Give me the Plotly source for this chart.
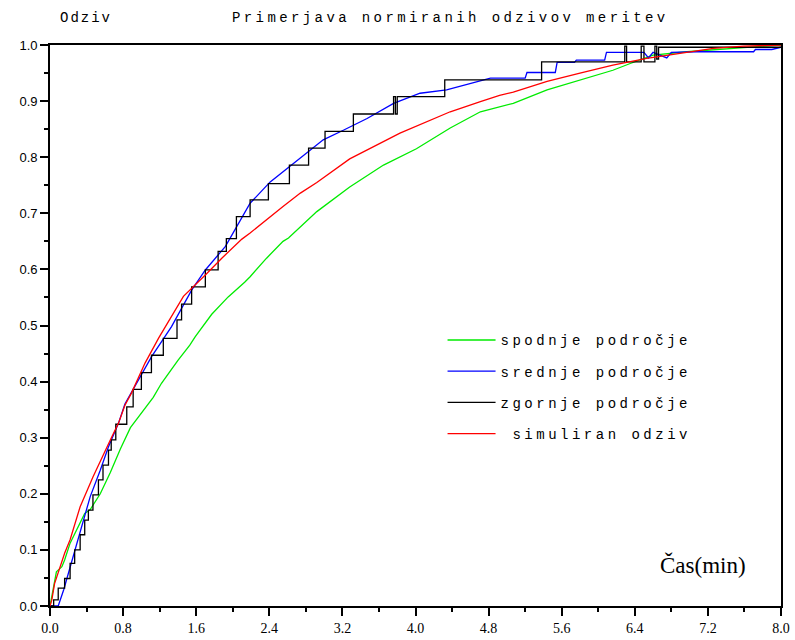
import plotly.graph_objects as go

# ---- data ----
green_x = [0.0, 0.02, 0.04, 0.07, 0.13, 0.16, 0.22, 0.29, 0.38, 0.44, 0.55, 0.66, 0.77, 0.88, 1.02,
           1.13, 1.22, 1.40, 1.53, 1.59, 1.77, 1.95, 2.13, 2.19, 2.37, 2.55, 2.61, 2.92, 3.28, 3.65,
           4.01, 4.38, 4.71, 4.92, 5.07, 5.44, 5.80, 6.16, 6.35, 6.60, 6.97, 7.62, 8.0]
green_y = [0.0, 0.017, 0.034, 0.061, 0.070, 0.082, 0.112, 0.135, 0.165, 0.172, 0.200, 0.238, 0.280, 0.318, 0.349,
           0.372, 0.397, 0.438, 0.465, 0.480, 0.520, 0.551, 0.577, 0.587, 0.620, 0.650, 0.656, 0.703, 0.747, 0.786,
           0.815, 0.852, 0.881, 0.890, 0.896, 0.920, 0.938, 0.955, 0.967, 0.982, 0.988, 0.996, 1.0]

blue_x = [0.0, 0.09, 0.15, 0.20, 0.25, 0.31, 0.38, 0.44, 0.55, 0.64, 0.75, 0.82, 1.11, 1.33, 1.55, 1.70,
          1.92, 2.02, 2.19, 2.41, 2.74, 2.99, 3.21, 3.47, 3.76, 4.05, 4.34, 4.82, 5.20, 5.22, 5.53, 5.55,
          5.74, 5.76, 6.07, 6.09, 6.50, 6.55, 6.60, 6.75, 6.80, 7.08, 7.70, 7.72, 7.90, 8.0]
blue_y = [0.0, 0.0, 0.029, 0.058, 0.088, 0.124, 0.165, 0.195, 0.242, 0.284, 0.326, 0.360, 0.444, 0.498, 0.563, 0.599,
          0.641, 0.670, 0.718, 0.756, 0.798, 0.831, 0.848, 0.869, 0.896, 0.914, 0.920, 0.941, 0.941, 0.951, 0.951, 0.969,
          0.969, 0.973, 0.973, 0.987, 0.987, 0.977, 0.987, 0.977, 0.987, 0.988, 0.988, 0.992, 0.992, 0.996]

black_x = [0.0, 0.04, 0.09, 0.16, 0.22, 0.27, 0.33, 0.38, 0.42, 0.47, 0.53, 0.58, 0.64, 0.67, 0.72, 0.84,
           0.91, 1.00, 1.11, 1.24, 1.39, 1.44, 1.55, 1.70, 1.84, 1.93, 2.04, 2.19, 2.39, 2.62, 2.83, 3.01,
           3.32, 3.76, 3.78, 3.80, 4.32, 5.38, 6.29, 6.31, 6.47, 6.50, 6.62, 6.64, 6.66, 8.0]
black_y = [0.0, 0.011, 0.032, 0.049, 0.076, 0.100, 0.127, 0.153, 0.171, 0.198, 0.225, 0.251, 0.278, 0.296, 0.324, 0.355,
           0.386, 0.416, 0.447, 0.477, 0.510, 0.538, 0.569, 0.599, 0.632, 0.655, 0.694, 0.724, 0.753, 0.786, 0.816, 0.846,
           0.877, 0.908, 0.877, 0.908, 0.938, 0.970, 0.998, 0.970, 0.998, 0.970, 0.998, 0.975, 0.996, 0.997]

red_x = [0.0, 0.02, 0.05, 0.11, 0.16, 0.22, 0.27, 0.33, 0.47, 0.57, 0.66, 0.75, 0.82, 0.89, 1.04, 1.19,
         1.33, 1.46, 1.70, 1.88, 2.10, 2.19, 2.55, 2.74, 2.92, 3.28, 3.83, 4.38, 4.71, 4.92, 5.07, 5.44,
         5.80, 6.16, 6.53, 6.89, 7.26, 7.59, 8.0]
red_y = [0.0, 0.011, 0.040, 0.070, 0.094, 0.118, 0.147, 0.177, 0.230, 0.266, 0.296, 0.326, 0.358, 0.379, 0.433, 0.478,
         0.517, 0.552, 0.590, 0.620, 0.654, 0.665, 0.712, 0.736, 0.755, 0.797, 0.843, 0.881, 0.899, 0.910, 0.916, 0.935,
         0.950, 0.964, 0.976, 0.985, 0.994, 0.998, 1.0]

names = ["spodnje področje", "srednje področje", "zgornje področje", "simuliran odziv"]
x_ticks = [0.0, 0.8, 1.6, 2.4, 3.2, 4.0, 4.8, 5.6, 6.4, 7.2, 8.0]
y_ticks = [0.0, 0.1, 0.2, 0.3, 0.4, 0.5, 0.6, 0.7, 0.8, 0.9, 1.0]

MONO = "Liberation Mono"
LS = "letter-spacing:3.5px"

fig = go.Figure()
fig.add_trace(go.Scatter(x=green_x, y=green_y, mode="lines", line=dict(color="rgb(0,235,0)", width=1.3),
                         name=f'<span style="{LS}">{names[0]}</span>', legendgroup="g1"))
fig.add_trace(go.Scatter(x=blue_x, y=blue_y, mode="lines", line=dict(color="rgb(0,0,255)", width=1.3),
                         name=f'<span style="{LS}">{names[1]}</span>', legendgroup="g2"))
fig.add_trace(go.Scatter(x=black_x, y=black_y, mode="lines", line=dict(color="black", width=1.3, shape="hv"),
                         name=f'<span style="{LS}">{names[2]}</span>', legendgroup="g3"))
fig.add_trace(go.Scatter(x=red_x, y=red_y, mode="lines", line=dict(color="rgb(255,0,0)", width=1.3),
                         name=f'<span style="{LS}"> {names[3]}</span>', legendgroup="g4"))

fig.update_layout(
    width=795, height=640,
    margin=dict(l=50, r=14, t=45, b=34, autoexpand=False),
    paper_bgcolor="white", plot_bgcolor="white",
    showlegend=True,
    legend=dict(x=0.537, y=0.502, xanchor="left", yanchor="top",
                font=dict(family=MONO, size=14, color="black"),
                bgcolor="rgba(0,0,0,0)", tracegroupgap=10, itemwidth=48),
    xaxis=dict(range=[0, 8], tickvals=x_ticks, ticktext=[f"{v:.1f}" for v in x_ticks],
               ticks="outside", ticklen=8, tickwidth=1.5, tickcolor="black", automargin=False,
               showline=True, linecolor="black", linewidth=1.8, mirror=True,
               showgrid=False, zeroline=False,
               tickfont=dict(family="Liberation Serif", size=14, color="black"),
               minor=dict(tickvals=[0.4, 1.2, 2.0, 2.8, 3.6, 4.4, 5.2, 6.0, 6.8, 7.6],
                          ticks="outside", ticklen=4, tickwidth=1.5, tickcolor="black", showgrid=False)),
    yaxis=dict(range=[0, 1], tickvals=y_ticks, ticktext=[f"{v:.1f}" for v in y_ticks],
               ticks="outside", ticklen=8, tickwidth=1.5, tickcolor="black", automargin=False,
               showline=True, linecolor="black", linewidth=1.8, mirror=True,
               showgrid=False, zeroline=False,
               tickfont=dict(family="Liberation Sans", size=13, color="black"),
               minor=dict(dtick=0.05, ticks="outside", ticklen=4, tickwidth=1.5, tickcolor="black", showgrid=False)),
    annotations=[
        dict(text=f'<span style="letter-spacing:3.4px">Primerjava normiranih odzivov meritev</span>',
             xref="paper", yref="paper", x=0.548, y=1.048, xanchor="center", yanchor="middle",
             showarrow=False, font=dict(family=MONO, size=14, color="black")),
        dict(text='<span style="letter-spacing:2px">Odziv</span>',
             xref="paper", yref="paper", x=0.011, y=1.048, xanchor="left", yanchor="middle",
             showarrow=False, font=dict(family=MONO, size=14, color="black")),
        dict(text="Čas(min)",
             xref="paper", yref="paper", x=0.955, y=0.073, xanchor="right", yanchor="middle",
             showarrow=False, font=dict(family="Liberation Serif", size=23, color="black")),
    ],
)

fig.write_html("out.html")
